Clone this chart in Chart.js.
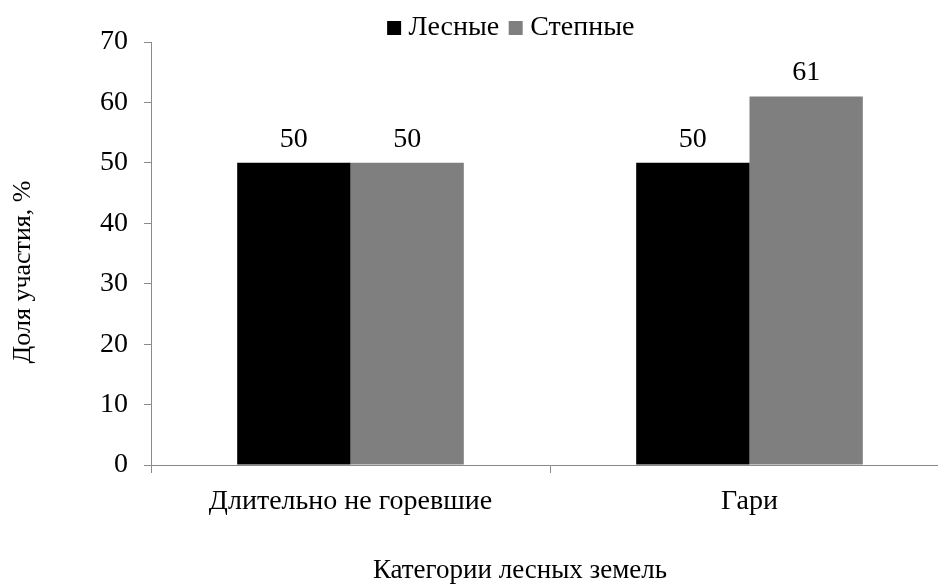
<!DOCTYPE html>
<html lang="ru">
<head>
<meta charset="utf-8">
<script src="https://cdn.jsdelivr.net/npm/chart.js@4/dist/chart.umd.min.js"></script>
<style>
  html, body { margin: 0; padding: 0; background: #fff; overflow: hidden; }
  #wrap { position: relative; width: 938px; height: 584px; overflow: hidden; }
  canvas { position: absolute; left: 0; top: 0; }
</style>
</head>
<body>
<div id="wrap"><canvas id="chart" width="960" height="584"></canvas></div>
<script>
// Категории и значения (доля участия, %)
const categories = ['Длительно не горевшие', 'Гари'];
const forestValues = [50, 50];   // Лесные
const steppeValues = [50, 61];   // Степные
const yTicks = [0, 10, 20, 30, 40, 50, 60, 70];
const xTitle = 'Категории лесных земель';
const yTitle = 'Доля участия, %';

const FONT = '"Liberation Serif", "Times New Roman", serif';
const FS = 28;
const AXIS = '#8a8a8a';

// Подписи значений над столбцами
const valueLabels = {
  id: 'valueLabels',
  afterDatasetsDraw(chart) {
    const ctx = chart.ctx;
    ctx.save();
    ctx.font = FS + 'px ' + FONT;
    ctx.fillStyle = '#000';
    ctx.textAlign = 'center';
    ctx.textBaseline = 'alphabetic';
    chart.data.datasets.forEach((ds, i) => {
      chart.getDatasetMeta(i).data.forEach((el, j) => {
        ctx.fillText(String(ds.data[j]), el.x, el.y - 16);
      });
    });
    ctx.restore();
  }
};

// Названия осей
const axisTitles = {
  id: 'axisTitles',
  afterDraw(chart) {
    const ctx = chart.ctx;
    ctx.save();
    ctx.fillStyle = '#000';
    ctx.textAlign = 'center';
    ctx.textBaseline = 'alphabetic';
    ctx.font = '27px ' + FONT;
    ctx.fillText(xTitle, 520, 578);
    ctx.font = '26px ' + FONT;
    ctx.translate(30, 272);
    ctx.rotate(-Math.PI / 2);
    ctx.fillText(yTitle, 0, 0);
    ctx.restore();
  }
};

// Положение легенды над областью графика
const legendPlace = {
  id: 'legendPlace',
  afterLayout(chart) {
    const lg = chart.legend;
    if (!lg) return;
    const dx = 514 - (lg.left + lg.right) / 2;
    lg.left += dx;
    lg.right += dx;
    const h = lg.bottom - lg.top;
    lg.top = -2;
    lg.bottom = lg.top + h;
  }
};

new Chart(document.getElementById('chart'), {
  type: 'bar',
  data: {
    labels: categories,
    datasets: [
      { label: 'Лесные', data: forestValues, backgroundColor: '#000000', borderWidth: 0 },
      { label: 'Степные', data: steppeValues, backgroundColor: '#7f7f7f', borderWidth: 0 }
    ]
  },
  options: {
    responsive: false,
    animation: false,
    devicePixelRatio: 1,
    layout: { padding: { left: 0, right: 11, top: -12, bottom: 0 } },
    datasets: { bar: { categoryPercentage: 0.568, barPercentage: 1.0 } },
    plugins: {
      tooltip: { enabled: false },
      legend: {
        position: 'top',
        labels: {
          usePointStyle: true,
          pointStyle: 'rect',
          boxWidth: 1,
          boxHeight: 14,
          padding: 16,
          color: '#000',
          font: { family: FONT, size: FS }
        }
      }
    },
    scales: {
      x: {
        offset: true,
        grid: { offset: true, drawOnChartArea: false, drawTicks: true, tickLength: 8, color: AXIS },
        border: { color: AXIS, width: 1 },
        ticks: { color: '#000', padding: 12, font: { family: FONT, size: FS }, maxRotation: 0 },
        afterFit(s) { s.height = 119; }
      },
      y: {
        min: 0,
        max: 70,
        afterBuildTicks(s) { s.ticks = yTicks.map(v => ({ value: v })); },
        grid: { drawOnChartArea: false, drawTicks: true, tickLength: 7, color: AXIS },
        border: { color: AXIS, width: 1 },
        ticks: { color: '#000', padding: 16, font: { family: FONT, size: FS } },
        afterFit(s) { s.width = 151; }
      }
    }
  },
  plugins: [valueLabels, axisTitles, legendPlace]
});
</script>
</body>
</html>
